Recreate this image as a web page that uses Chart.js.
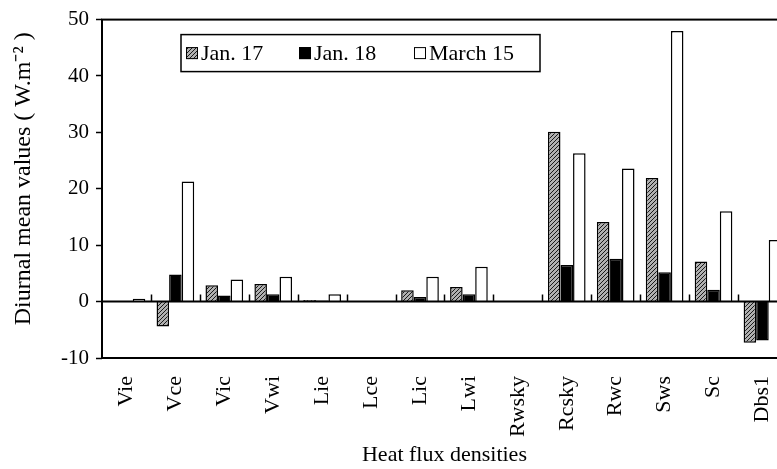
<!DOCTYPE html>
<html>
<head>
<meta charset="utf-8">
<script src="https://cdn.jsdelivr.net/npm/chart.js@4/dist/chart.umd.min.js"></script>
<style>
html, body { margin: 0; padding: 0; background: #fff; overflow: hidden; }
#wrap { width: 799px; height: 469px; }
</style>
</head>
<body>
<div id="wrap"><canvas id="c" width="799" height="469"></canvas></div>
<script>
// data
const categories = ['Vie', 'Vce', 'Vic', 'Vwi', 'Lie', 'Lce', 'Lic', 'Lwi', 'Rwsky', 'Rcsky', 'Rwc', 'Sws', 'Sc', 'Dbs1'];
const seriesNames = ['Jan. 17', 'Jan. 18', 'March 15'];
const jan17 = [0.1, -4.4, 2.9, 3.1, 0.3, 0, 2.0, 2.6, 0, 30.1, 14.1, 21.9, 7.1, -7.3];
const jan18 = [0.1, 4.8, 1.1, 1.3, 0.2, 0, 0.8, 1.3, 0, 6.5, 7.6, 5.2, 2.1, -6.9];
const march15 = [0.5, 21.3, 3.9, 4.4, 1.3, 0, 4.4, 6.2, 0, 26.3, 23.6, 48.0, 16.0, 10.9];
const yMin = -10, yMax = 50, yStep = 10;

const FONT = 'Liberation Serif, Times New Roman, serif';

// hatched fill for Jan. 17
function hatch() {
  const p = document.createElement('canvas');
  p.width = 4; p.height = 4;
  const g = p.getContext('2d');
  g.fillStyle = '#b0b0b0';
  g.fillRect(0, 0, 4, 4);
  g.strokeStyle = '#1a1a1a';
  g.lineWidth = 1;
  g.beginPath();
  g.moveTo(0, 4); g.lineTo(4, 0);
  g.moveTo(-1, 1); g.lineTo(1, -1);
  g.moveTo(3, 5); g.lineTo(5, 3);
  g.stroke();
  return g.createPattern(p, 'repeat');
}
const hatchFill = hatch();

// box, zero line, small ticks on zero line, legend, axis titles
const extras = {
  id: 'extras',
  afterDraw(chart) {
    const ctx = chart.ctx;
    const a = chart.chartArea;
    const x = chart.scales.x, y = chart.scales.y;
    const y0 = y.getPixelForValue(0);
    ctx.save();
    ctx.strokeStyle = '#000';
    ctx.lineWidth = 2;
    ctx.strokeRect(a.left, a.top, a.right - a.left, a.bottom - a.top);
    ctx.beginPath();
    ctx.moveTo(a.left, y0); ctx.lineTo(a.right, y0);
    ctx.stroke();

    // category boundary ticks on the zero line
    const w = x.getPixelForValue(1) - x.getPixelForValue(0);
    ctx.lineWidth = 1.5;
    ctx.beginPath();
    for (let i = 1; i <= categories.length; i++) {
      const bx = Math.round(x.getPixelForValue(i) - w / 2) + 0.5;
      ctx.moveTo(bx, y0); ctx.lineTo(bx, y0 - 7);
    }
    ctx.stroke();

    // legend
    const lx = a.left + 79, ly = a.top + 15, lw = 359, lh = 37;
    ctx.fillStyle = '#fff';
    ctx.fillRect(lx, ly, lw, lh);
    ctx.lineWidth = 1.5;
    ctx.strokeRect(lx, ly, lw, lh);
    const offs = [5, 118, 233];
    ctx.font = '22px ' + FONT;
    ctx.textBaseline = 'middle';
    chart.data.datasets.forEach((ds, i) => {
      const sx = lx + offs[i], sy = ly + lh / 2 - 6;
      ctx.fillStyle = ds.backgroundColor;
      ctx.fillRect(sx, sy, 12, 12);
      ctx.lineWidth = 1;
      ctx.strokeStyle = '#000';
      ctx.strokeRect(sx + 0.5, sy + 0.5, 11, 11);
      ctx.fillStyle = '#000';
      ctx.fillText(ds.label, sx + 15, ly + lh / 2 + 1);
    });

    // x axis title
    ctx.font = '22px ' + FONT;
    ctx.textAlign = 'center';
    ctx.textBaseline = 'middle';
    ctx.fillText('Heat flux densities', (a.left + a.right) / 2, 455);

    // y axis title
    ctx.font = '24px ' + FONT;
    ctx.translate(24, (a.top + a.bottom) / 2 - 10);
    ctx.rotate(-Math.PI / 2);
    ctx.fillText('Diurnal mean values ( W.m\u207B\u00B2 )', 0, 0);
    ctx.restore();
  }
};

new Chart(document.getElementById('c'), {
  type: 'bar',
  data: {
    labels: categories,
    datasets: [
      { label: seriesNames[0], data: jan17, backgroundColor: hatchFill, borderColor: '#000', borderWidth: 1.5 },
      { label: seriesNames[1], data: jan18, backgroundColor: '#000', borderColor: '#000', borderWidth: 1.5 },
      { label: seriesNames[2], data: march15, backgroundColor: '#fff', borderColor: '#000', borderWidth: 1.5 }
    ]
  },
  options: {
    responsive: false,
    animation: false,
    devicePixelRatio: 1,
    layout: { padding: { top: 18, right: 4, left: 0, bottom: 0 } },
    datasets: { bar: { categoryPercentage: 0.77, barPercentage: 1.0 } },
    plugins: {
      legend: { display: false },
      tooltip: { enabled: false }
    },
    scales: {
      x: {
        grid: { display: false },
        border: { display: false },
        ticks: {
          autoSkip: false,
          minRotation: 90,
          maxRotation: 90,
          padding: 10,
          color: '#000',
          font: { family: FONT, size: 22 }
        },
        afterFit(s) { s.height = 111; }
      },
      y: {
        min: yMin,
        max: yMax,
        ticks: {
          stepSize: yStep,
          padding: 7,
          color: '#000',
          font: { family: FONT, size: 21 }
        },
        grid: {
          drawOnChartArea: false,
          drawTicks: true,
          tickLength: 6,
          tickColor: '#000',
          tickWidth: 1.5
        },
        border: { display: false },
        afterFit(s) { s.width = 102; }
      }
    }
  },
  plugins: [extras]
});
</script>
</body>
</html>
